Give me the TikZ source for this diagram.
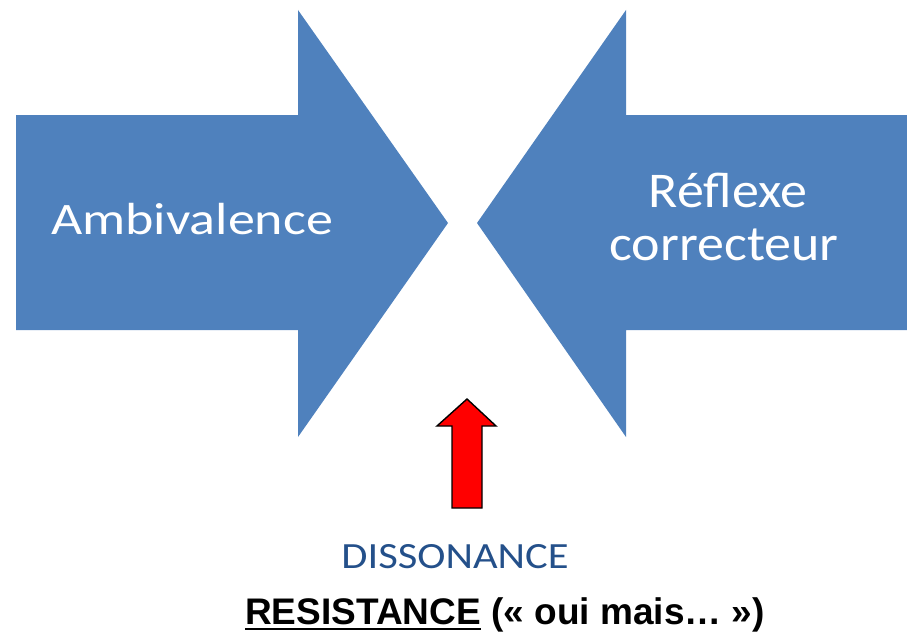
\documentclass[tikz,border=0pt]{standalone}
\usepackage{fontspec}
\newfontfamily\bodyfont{Carlito}
\newfontfamily\boldsans{Liberation Sans}
\definecolor{arrowblue}{HTML}{4F81BD}
\definecolor{labelblue}{HTML}{24508A}
\definecolor{alertred}{HTML}{FF0000}
\begin{document}
\begin{tikzpicture}[x=1pt,y=-1pt,
  bigarrow/.style={fill=arrowblue,draw=none},
  smallarrow/.style={fill=alertred,draw=black,line width=1.4pt,line join=miter},
  inarrow/.style={text=white,anchor=base,inner sep=0pt},
  caption/.style={anchor=base,inner sep=0pt}]
  \useasboundingbox (0,0) rectangle (907,634);

  % left block arrow pointing right
  \path[bigarrow] (16,115) -- (298,115) -- (298,10) -- (448,223)
    -- (298,437) -- (298,330) -- (16,330) -- cycle;
  % right block arrow pointing left
  \path[bigarrow] (907,115) -- (626,115) -- (626,10) -- (477,223)
    -- (626,437) -- (626,330) -- (907,330) -- cycle;

  % small red arrow pointing up
  \draw[smallarrow] (467,399) -- (496,426) -- (482,426) -- (482,508)
    -- (452,508) -- (452,426) -- (437,426) -- cycle;

  % labels inside the block arrows
  \node[inarrow,font=\bodyfont\fontsize{45}{50}\selectfont] (amb) at (192,234)
    {\scalebox{1.2}[1]{Ambivalence}};
  \node[inarrow,font=\bodyfont\fontsize{50}{55}\selectfont] (refl) at (728,207)
    {\scalebox{1.08}[1]{Réflexe}};
  \node[inarrow,font=\bodyfont\fontsize{50}{55}\selectfont] (corr) at (724,260)
    {\scalebox{1.08}[1]{correcteur}};

  % captions below
  \node[caption,text=labelblue,font=\bodyfont\fontsize{37}{40}\selectfont] (diss) at (455,568)
    {\scalebox{1.15}[1]{DISSONANCE}};
  \node[caption,anchor=base west,font=\boldsans\bfseries\fontsize{37}{40}\selectfont] (res) at (245,624)
    {RESISTANCE};
  \node[caption,anchor=base west,font=\boldsans\bfseries\fontsize{37}{40}\selectfont] (oui) at ([xshift=10]res.base east)
    {(« oui mais… »)};
  \draw[line width=2.6pt] ([yshift=-5]res.base west) -- ([yshift=-5]res.base east);
\end{tikzpicture}
\end{document}
